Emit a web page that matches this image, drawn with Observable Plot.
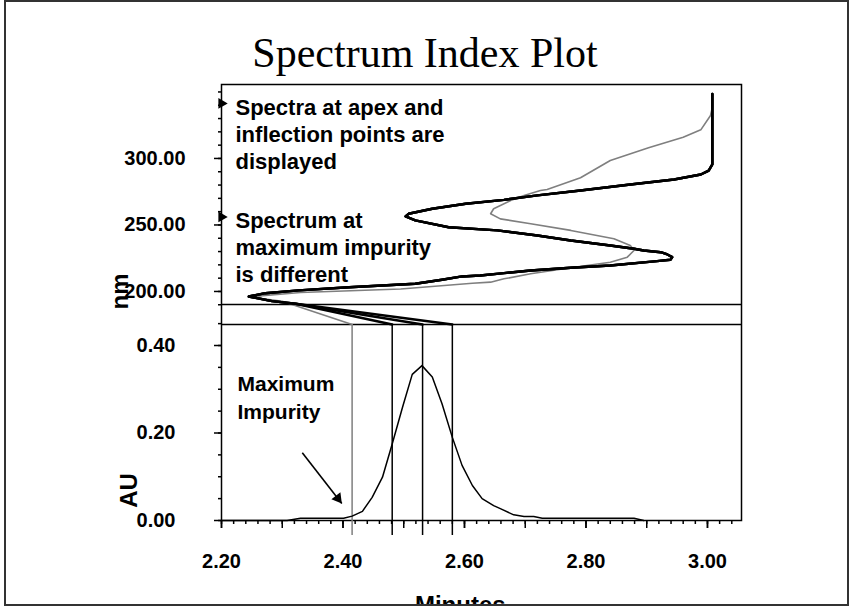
<!DOCTYPE html>
<html>
<head>
<meta charset="utf-8">
<script src="https://cdn.jsdelivr.net/npm/d3@7"></script>
<script src="https://cdn.jsdelivr.net/npm/@observablehq/plot@0.6"></script>
<style>
  body { margin: 0; background: #fff; }
  #wrap { position: relative; width: 850px; height: 607px; background: #fff; overflow: hidden; }
  #box { position: absolute; left: 4px; top: 0; width: 845px; height: 606px; border: 2px solid #333; box-sizing: border-box; overflow: hidden; background: #fff; }
  #box svg { position: absolute; left: -6px; top: -2px; max-width: none !important; }
  #title { position: absolute; left: -6px; top: 30px; width: 850px; text-align: center; z-index: 5;
           font-family: "Liberation Serif", "Times New Roman", serif; font-size: 42px; line-height: 42px; color: #000; }
</style>
</head>
<body>
<div id="wrap"><div id="box"><div id="title">Spectrum Index Plot</div></div></div>
<script>
// ---------------- data ----------------
const xLabelTicks = [2.2, 2.4, 2.6, 2.8, 3.0];
const nmLabelTicks = [200, 250, 300];
const auLabelTicks = [0, 0.2, 0.4];

// chromatogram (minutes, AU)
const chromTime = [2.200, 2.308, 2.330, 2.401, 2.415, 2.432, 2.448, 2.465, 2.481, 2.498, 2.514, 2.530, 2.547, 2.563, 2.580, 2.596, 2.613, 2.629, 2.648, 2.659, 2.681, 2.698, 2.714, 2.728, 2.879, 2.895];
const chromAU   = [0.000, 0.000, 0.005, 0.005, 0.010, 0.021, 0.053, 0.099, 0.175, 0.259, 0.334, 0.354, 0.328, 0.267, 0.190, 0.126, 0.080, 0.050, 0.034, 0.027, 0.013, 0.009, 0.009, 0.005, 0.005, 0.000];

// times at which spectra were taken (max impurity, inflection, apex, inflection)
const markerTimes = [2.415, 2.481, 2.531, 2.580];
const markerKinds = ["impurity", "peak", "peak", "peak"];
const auTop = 0.448;          // top of chromatogram panel
const spectrumBaseNm = 175.2; // wavelength level where spectra leave the chromatogram panel

// spectrum at apex / inflection points (position along time axis, wavelength nm)
const peakSpecT  = [2.322, 2.283, 2.245, 2.272, 2.327, 2.410, 2.519, 2.563, 2.596, 2.626, 2.665, 2.709, 2.775, 2.840, 2.917, 2.939, 2.942, 2.934, 2.923, 2.895, 2.879, 2.840, 2.775, 2.720, 2.654, 2.574, 2.519, 2.503, 2.508, 2.547, 2.602, 2.665, 2.720, 2.791, 2.873, 2.945, 2.989, 3.002, 3.008, 3.008];
const peakSpecNm = [190.8, 192.7, 196.2, 198.7, 200.8, 203.2, 205.8, 208.8, 211.3, 212.0, 213.8, 215.8, 217.8, 219.5, 222.8, 223.8, 225.8, 227.8, 229.5, 230.8, 232.1, 234.6, 238.3, 242.1, 245.9, 248.3, 253.4, 256.4, 258.4, 262.2, 265.9, 268.9, 272.2, 275.9, 280.4, 284.2, 287.9, 290.9, 295.5, 348.5];

// spectrum at maximum impurity
const impSpecT  = [2.300, 2.245, 2.330, 2.495, 2.613, 2.643, 2.665, 2.709, 2.775, 2.840, 2.868, 2.879, 2.873, 2.846, 2.775, 2.709, 2.659, 2.643, 2.648, 2.676, 2.698, 2.725, 2.736, 2.791, 2.840, 2.903, 2.960, 2.989, 3.005, 3.008, 3.008];
const impSpecNm = [192.7, 196.0, 199.2, 201.9, 206.2, 207.0, 209.5, 213.3, 217.8, 222.0, 225.8, 230.8, 234.6, 239.6, 245.9, 250.9, 254.6, 258.4, 262.2, 268.4, 272.2, 275.9, 276.7, 285.5, 298.5, 308.0, 316.0, 321.5, 332.3, 338.3, 348.5];

// annotations
const noteTexts = ["Spectra at apex and\ninflection points are\ndisplayed", "Spectrum at\nmaximum impurity\nis different"];
const noteNm = [341.4, 256.0];
const peakNote = "Maximum\nImpurity";
const peakNoteAU = 0.343;
const arrowFrom = [2.333, 0.155];
const arrowTo = [2.398, 0.039];

// ---------------- build ----------------
const xDomain = [2.2, 3.056];
const font = "'Liberation Sans', Arial, Helvetica, sans-serif";
const GREY = "#7f7f7f";

const chromRows = chromTime.map((t, i) => ({t, au: chromAU[i]}));
const specRows = [];
markerTimes.forEach((t0, i) => {
  const imp = markerKinds[i] === "impurity";
  const T = imp ? impSpecT : peakSpecT, N = imp ? impSpecNm : peakSpecNm;
  specRows.push({id: i, imp, t: t0, nm: spectrumBaseNm});
  T.forEach((t, j) => specRows.push({id: i, imp, t, nm: N[j]}));
});
const notes = noteTexts.map((text, i) => ({text, t: xDomain[0], nm: noteNm[i]}));
const arrowRow = [{x1: arrowFrom[0], y1: arrowFrom[1], x2: arrowTo[0], y2: arrowTo[1]}];

const common = {
  width: 850, marginLeft: 221, marginRight: 109,
  x: {domain: xDomain, label: null}
};

const lower = Plot.plot({
  ...common,
  height: 607, marginTop: 84, marginBottom: 87,
  y: {domain: [0, 0.9966], label: null},
  style: {fontFamily: font, fontWeight: "bold", background: "transparent", overflow: "visible", maxWidth: "none"},
  marks: [
    Plot.frame({stroke: "#000", strokeWidth: 1.5}),
    Plot.ruleY([auTop], {stroke: "#000", strokeWidth: 1.5}),
    Plot.axisY(d3.range(0, 0.451, 0.05), {anchor: "left", tickSize: 3, tickFormat: () => "", strokeWidth: 1.5, label: null}),
    Plot.axisY(auLabelTicks, {anchor: "left", tickSize: 7, tickPadding: 39, tickFormat: d => d.toFixed(2), fontSize: 20, strokeWidth: 1.5, label: null}),
    Plot.axisX(d3.range(2.2, 3.05, 0.02), {anchor: "bottom", tickSize: 4, tickFormat: () => "", strokeWidth: 1.5, label: null}),
    Plot.axisX(d3.range(2.2, 3.05, 0.1), {anchor: "bottom", tickSize: 8, tickFormat: () => "", strokeWidth: 1.5, label: null}),
    Plot.axisX(xLabelTicks, {anchor: "bottom", tickSize: 8, tickPadding: 25, tickFormat: d => d.toFixed(2), fontSize: 20, strokeWidth: 1.5, label: null}),
    Plot.ruleX(markerTimes.filter((t, i) => markerKinds[i] === "impurity"), {y1: auTop, y2: 0, insetBottom: -15, stroke: GREY, strokeWidth: 1.5}),
    Plot.ruleX(markerTimes.filter((t, i) => markerKinds[i] !== "impurity"), {y1: auTop, y2: 0, insetBottom: -15, stroke: "#000", strokeWidth: 1.5}),
    Plot.line(chromRows, {x: "t", y: "au", stroke: "#000", strokeWidth: 1.5}),
    Plot.link(arrowRow, {x1: "x1", y1: "y1", x2: "x2", y2: "y2", stroke: "#000", strokeWidth: 1.6}),
    Plot.dot(arrowRow, {x: "x2", y: "y2", symbol: "triangle", rotate: 142.6, r: 4.2, dx: -3.9, dy: -5.1, fill: "#000", stroke: null}),
    Plot.text([peakNote], {x: xDomain[0], y: peakNoteAU, text: d => d, textAnchor: "start", lineAnchor: "top", dx: 16, fontSize: 21, lineHeight: 1.35, fontWeight: "bold"}),
    Plot.text(["AU"], {x: xDomain[0], y: 0.0686, text: d => d, rotate: -90, dx: -92, fontSize: 24, fontWeight: "bold"}),
    Plot.text(["Minutes"], {x: 2.593, y: 0, text: d => d, lineAnchor: "top", dy: 75, fontSize: 24, fontWeight: "bold"})
  ]
});

const upper = Plot.plot({
  ...common,
  height: 330, marginTop: 84, marginBottom: 26,
  x: {domain: xDomain, label: null, axis: null},
  y: {domain: [190.2, 355.6], label: null},
  style: {fontFamily: font, fontWeight: "bold", background: "transparent", overflow: "visible", maxWidth: "none"},
  marks: [
    Plot.ruleY([190.2], {stroke: "#000", strokeWidth: 1.5}),
    Plot.axisY(d3.range(190, 351, 10), {anchor: "left", tickSize: 3, tickFormat: () => "", strokeWidth: 1.5, label: null}),
    Plot.axisY(nmLabelTicks, {anchor: "left", tickSize: 7, tickPadding: 29, tickFormat: d => d.toFixed(2), fontSize: 20, strokeWidth: 1.5, label: null}),
    Plot.line(specRows.filter(d => d.imp), {x: "t", y: "nm", z: "id", stroke: GREY, strokeWidth: 1.6}),
    Plot.line(specRows.filter(d => !d.imp), {x: "t", y: "nm", z: "id", stroke: "#000", strokeWidth: 2.4}),
    Plot.dot(notes, {x: "t", y: "nm", symbol: "triangle", rotate: 90, r: 4, fill: "#000", stroke: null}),
    Plot.text(notes, {x: "t", y: "nm", text: "text", textAnchor: "start", lineAnchor: "top", dx: 14, dy: -8, fontSize: 22, lineHeight: 1.227, fontWeight: "bold"}),
    Plot.text(["nm"], {x: xDomain[0], y: 200, text: d => d, rotate: -90, dx: -101, fontSize: 24, fontWeight: "bold"})
  ]
});

const box = document.getElementById("box");
box.appendChild(lower);
box.appendChild(upper);
</script>
</body>
</html>
